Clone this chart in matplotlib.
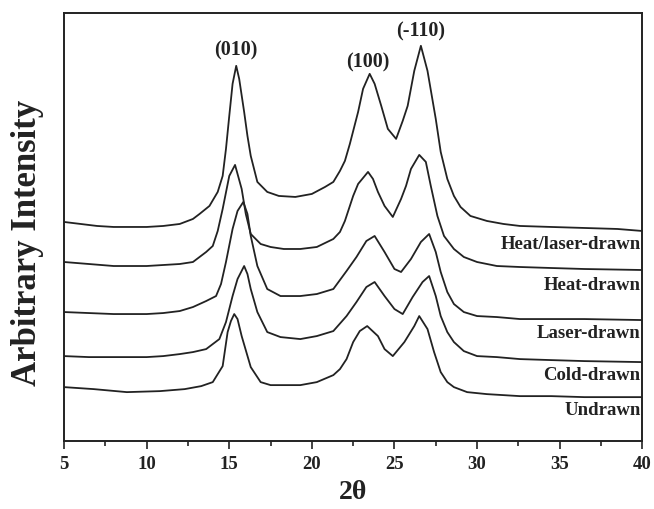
import matplotlib
matplotlib.use("Agg")
import matplotlib.pyplot as plt
from matplotlib.ticker import MultipleLocator

# XRD patterns, values (arbitrary units)
two_theta_hl = [5.0, 6.0, 7.0, 8.0, 9.0, 10.0, 11.0, 12.0, 12.8, 13.2, 13.8, 14.3, 14.6,
                14.8, 15.0, 15.2, 15.42, 15.6, 15.9, 16.1, 16.3, 16.7, 17.3, 18.0, 19.0,
                20.0, 20.8, 21.3, 21.7, 22.0, 22.3, 22.8, 23.1, 23.5, 23.8, 24.2, 24.6,
                25.1, 25.5, 25.8, 26.2, 26.6, 27.0, 27.5, 27.8, 28.2, 28.6, 29.0, 29.6,
                30.6, 31.6, 32.6, 34.5, 36.5, 38.5, 40.0]
heat_laser = [219, 217, 215, 214, 214, 214, 215, 217, 222, 227, 235, 249, 265,
              292, 325, 357, 375, 362, 329, 305, 285, 259, 249, 245, 244,
              247, 254, 259, 270, 280, 297, 329, 352, 367, 357, 335, 312,
              302, 320, 335, 370, 395, 370, 322, 289, 262, 245, 234, 225,
              220, 217, 215, 214, 213, 212, 210]

two_theta_h = [5.0, 6.5, 8.0, 10.0, 11.0, 12.0, 12.8, 13.6, 14.0, 14.3, 14.6, 15.0, 15.35,
               15.75, 16.0, 16.3, 16.9, 17.5, 18.3, 19.3, 20.3, 21.3, 21.7, 22.0, 22.5,
               22.8, 23.4, 23.7, 24.0, 24.4, 24.9, 25.4, 25.7, 26.0, 26.5, 26.9, 27.2,
               27.6, 28.0, 28.6, 29.2, 30.0, 31.2, 32.6, 34.5, 36.5, 40.0]
heat = [179, 177, 175, 175, 176, 177, 179, 189, 195, 210, 232, 265, 276,
        252, 227, 207, 197, 194, 192, 192, 194, 202, 209, 220, 245,
        257, 269, 262, 249, 235, 224, 242, 255, 272, 286, 279, 255,
        225, 205, 192, 184, 179, 175, 174, 173, 172, 171]

two_theta_l = [5.0, 6.5, 8.0, 10.0, 11.0, 12.0, 12.8, 13.6, 14.2, 14.5, 14.8, 15.2, 15.5,
               15.85, 16.1, 16.3, 16.7, 17.3, 18.1, 19.3, 20.3, 21.3, 22.1, 22.7, 23.3,
               23.8, 24.4, 25.0, 25.4, 26.0, 26.6, 27.1, 27.5, 27.8, 28.2, 28.6, 29.2,
               30.0, 31.2, 32.6, 34.5, 36.5, 40.0]
laser = [129, 128, 127, 127, 128, 130, 134, 140, 145, 157, 179, 212, 230,
         239, 227, 205, 175, 152, 145, 145, 147, 152, 170, 184, 200,
         205, 189, 172, 169, 182, 199, 207, 189, 169, 149, 137, 129,
         125, 124, 122, 122, 122, 121]

two_theta_c = [5.0, 6.5, 8.0, 10.0, 11.0, 12.0, 12.8, 13.6, 14.4, 14.8, 15.2, 15.5, 15.9,
               16.1, 16.3, 16.7, 17.3, 18.1, 19.3, 20.3, 21.3, 22.1, 22.7, 23.3, 23.8,
               24.4, 25.0, 25.5, 26.1, 26.7, 27.1, 27.5, 27.8, 28.2, 28.6, 29.2, 30.0,
               31.2, 32.6, 34.5, 36.5, 40.0]
cold = [85, 84, 84, 84, 85, 87, 89, 92, 102, 119, 145, 162, 175,
        167, 152, 129, 109, 104, 102, 105, 110, 125, 139, 154, 159,
        145, 132, 127, 144, 159, 165, 145, 125, 109, 99, 90, 85,
        84, 82, 81, 80, 79]

two_theta_u = [5.0, 6.8, 8.8, 10.8, 12.3, 13.3, 14.0, 14.6, 14.9, 15.1, 15.3, 15.5, 15.75,
               16.3, 16.9, 17.5, 18.3, 19.3, 20.3, 21.3, 21.7, 22.1, 22.5, 22.9, 23.35,
               24.0, 24.4, 24.9, 25.6, 26.2, 26.5, 27.0, 27.4, 27.8, 28.2, 28.6, 29.4,
               30.6, 32.6, 34.5, 36.5, 40.0]
undrawn = [54, 52, 49, 50, 52, 55, 59, 75, 109, 120, 127, 122, 105,
           74, 59, 56, 56, 56, 59, 66, 72, 82, 99, 110, 115,
           105, 92, 85, 99, 115, 125, 112, 89, 69, 59, 54, 49,
           47, 45, 45, 44, 44]

labels = ["Heat/laser-drawn", "Heat-drawn", "Laser-drawn", "Cold-drawn", "Undrawn"]
label_y = [197, 157, 109, 67, 32]
peak_names = ["(010)", "(100)", "(-110)"]
peak_x = [15.4, 23.4, 26.6]
peak_y = [381, 369, 400]

plt.rcParams['font.family'] = ['Liberation Serif', 'DejaVu Serif']
plt.rcParams['font.weight'] = 'bold'

fig = plt.figure(figsize=(6.54, 5.10), dpi=100)
ax = fig.add_axes([0.098, 0.133, 0.884, 0.840])

line_col = '#222222'
for xs, ys in [(two_theta_hl, heat_laser), (two_theta_h, heat), (two_theta_l, laser),
               (two_theta_c, cold), (two_theta_u, undrawn)]:
    ax.plot(xs, ys, color=line_col, lw=1.3)

for lab, yy in zip(labels, label_y):
    ax.text(39.9, yy, lab, ha='right', va='center', fontsize=13.5, fontweight='bold',
            color='#222222')

for nm, px, py in zip(peak_names, peak_x, peak_y):
    ax.text(px, py, nm, ha='center', va='bottom', fontsize=14.5, fontweight='bold',
            color='#222222')

ax.set_xlim(5, 40)
ax.set_ylim(0, 428)
ax.xaxis.set_major_locator(MultipleLocator(5))
ax.xaxis.set_minor_locator(MultipleLocator(2.5))
ax.tick_params(axis='x', which='both', direction='out', top=False, labelsize=13.5,
               width=1.2, pad=4, colors='#222222')
ax.tick_params(axis='x', which='major', length=6)
ax.tick_params(axis='x', which='minor', length=3.5)
ax.set_yticks([])
for lbl in ax.get_xticklabels():
    lbl.set_fontweight('bold')
for sp in ax.spines.values():
    sp.set_linewidth(1.4)
    sp.set_color('#222222')

ax.set_xlabel('2θ', fontsize=20, fontweight='bold', labelpad=5, color='#222222')
ax.set_ylabel('Arbitrary Intensity', fontsize=25, fontweight='bold', color='#222222')
ax.yaxis.set_label_coords(-0.034, 0.465)

fig.savefig('out.png', dpi=100)
